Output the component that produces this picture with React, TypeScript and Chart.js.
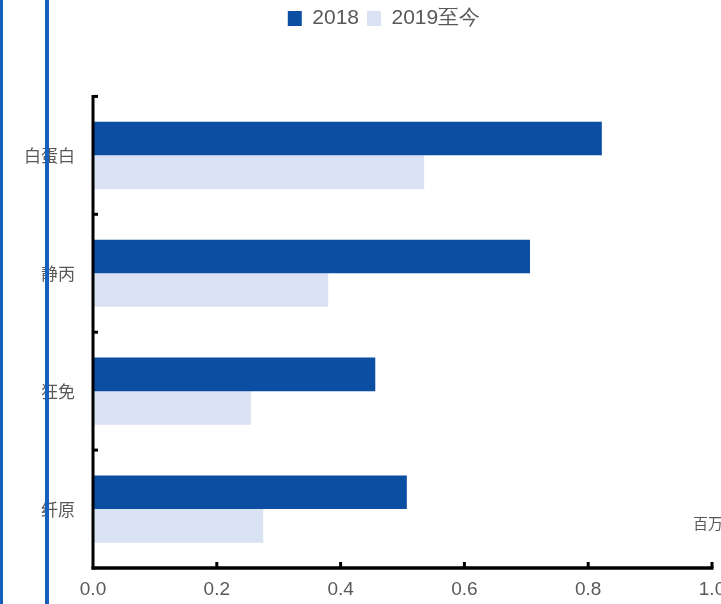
import React, { useEffect, useRef } from "react";
import { Chart, registerables } from "chart.js";

Chart.register(...registerables);

const categories = ["白蛋白", "静丙", "狂免", "纤原"];
const series2018 = [0.822, 0.706, 0.456, 0.507];
const series2019 = [0.535, 0.38, 0.255, 0.275];
const seriesLabels = ["2018", "2019至今"];
const xTickValues = [0, 0.2, 0.4, 0.6, 0.8, 1.0];
const unitLabel = "百万瓶";

const DARK = "#0b4ea2";
const LIGHT = "#d9e2f3";
const GRAY = "#595959";

const axesPlugin = {
  id: "customAxes",
  afterDatasetsDraw(chart: any) {
    const { ctx, chartArea: ca, scales } = chart;
    const x = scales.x;
    const y = scales.y;
    const x0 = x.getPixelForValue(0);
    const x1 = x.getPixelForValue(1);
    ctx.save();
    ctx.strokeStyle = "#000";
    ctx.lineCap = "butt";
    ctx.lineWidth = 3;
    ctx.beginPath();
    ctx.moveTo(x0, ca.top - 1.5);
    ctx.lineTo(x0, ca.bottom + 1.5);
    ctx.stroke();
    ctx.lineWidth = 3.5;
    ctx.beginPath();
    ctx.moveTo(x0 - 1.5, ca.bottom);
    ctx.lineTo(x1 + 1.5, ca.bottom);
    ctx.stroke();
    ctx.lineWidth = 3;
    xTickValues.forEach((v) => {
      if (v === 0) return;
      const px = x.getPixelForValue(v);
      ctx.beginPath();
      ctx.moveTo(px, ca.bottom);
      ctx.lineTo(px, ca.bottom - 6);
      ctx.stroke();
    });
    const n = categories.length;
    const step = n > 1 ? y.getPixelForValue(1) - y.getPixelForValue(0) : ca.bottom - ca.top;
    for (let i = 0; i < n; i++) {
      const py = y.getPixelForValue(i) - step / 2;
      ctx.beginPath();
      ctx.moveTo(x0, py);
      ctx.lineTo(x0 + 5, py);
      ctx.stroke();
    }
    ctx.font = "15px 'Noto Sans CJK SC'";
    ctx.fillStyle = GRAY;
    ctx.textAlign = "left";
    ctx.textBaseline = "middle";
    ctx.fillText(unitLabel, ca.right - 19, ca.bottom - 45);
    ctx.restore();
  },
};

export default function App() {
  const ref = useRef<HTMLCanvasElement | null>(null);

  useEffect(() => {
    if (!ref.current) return;
    const chart = new Chart(ref.current, {
      type: "bar",
      data: {
        labels: categories,
        datasets: [
          {
            label: seriesLabels[0],
            data: series2018,
            backgroundColor: DARK,
            borderWidth: 0,
            categoryPercentage: 0.57,
            barPercentage: 1,
          },
          {
            label: seriesLabels[1],
            data: series2019,
            backgroundColor: LIGHT,
            borderWidth: 0,
            categoryPercentage: 0.57,
            barPercentage: 1,
          },
        ],
      },
      options: {
        indexAxis: "y",
        responsive: false,
        animation: false,
        layout: { padding: { left: 0, right: 0, top: 0, bottom: 0 } },
        plugins: {
          legend: {
            position: "top",
            weight: 3000,
            labels: {
              boxWidth: 14,
              boxHeight: 15,
              padding: 8,
              color: GRAY,
              font: { family: "'Liberation Sans', Arial, sans-serif", size: 21 },
            },
          },
          title: {
            display: true,
            text: "",
            position: "top",
            weight: 100,
            padding: { top: 0, bottom: 43 },
            font: { size: 12 },
          },
          tooltip: { enabled: false },
        },
        scales: {
          x: {
            type: "linear",
            min: 0,
            max: 1,
            ticks: {
              stepSize: 0.2,
              color: GRAY,
              padding: 10,
              font: { family: "'Liberation Sans', Arial, sans-serif", size: 19 },
              callback: (v: any) => Number(v).toFixed(1),
            },
            grid: { display: false, drawTicks: false },
            border: { display: false },
            afterFit: (s: any) => {
              s.height = 57;
            },
          },
          y: {
            ticks: {
              color: GRAY,
              padding: 18,
              font: { family: "'Noto Sans CJK SC', sans-serif", size: 17 },
            },
            grid: { display: false, drawTicks: false },
            border: { display: false },
            afterFit: (s: any) => {
              s.width = 93;
            },
          },
          y2: {
            type: "linear",
            position: "right",
            display: true,
            ticks: { display: false },
            grid: { display: false, drawTicks: false },
            border: { display: false },
            afterFit: (s: any) => {
              s.width = 56;
            },
          },
        },
      },
      plugins: [axesPlugin],
    });
    return () => chart.destroy();
  }, []);

  return (
    <div
      style={{
        position: "absolute",
        left: 0,
        top: 0,
        width: 721,
        height: 604,
        overflow: "hidden",
        background: "#fff",
      }}
    >
      <canvas ref={ref} width={768} height={625} style={{ display: "block" }} />
      <div style={{ position: "absolute", left: 0, top: 0, width: 3, height: 604, background: "#1560bd" }} />
      <div style={{ position: "absolute", left: 45, top: 0, width: 4, height: 604, background: "#1560bd" }} />
    </div>
  );
}
